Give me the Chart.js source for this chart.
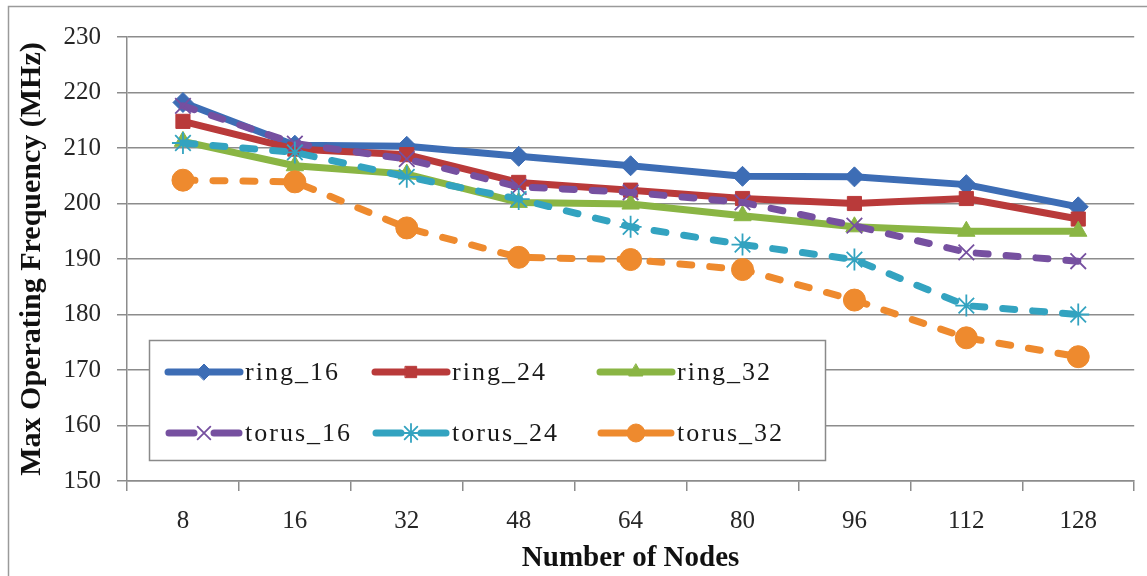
<!DOCTYPE html>
<html lang="en">
<head>
<meta charset="utf-8">
<title>Max Operating Frequency vs Number of Nodes</title>
<script src="https://cdn.jsdelivr.net/npm/chart.js@4.4.0/dist/chart.umd.min.js"></script>
<style>
  html, body { margin: 0; padding: 0; background: #fff; }
  #wrap { width: 1147px; height: 576px; }
</style>
</head>
<body>
<div id="wrap"><canvas id="freqChart"></canvas></div>
<script>
// node counts on the x axis
const nodes = ['8', '16', '32', '48', '64', '80', '96', '112', '128'];

// max operating frequency (MHz) per topology / width
const ring16  = [218.2, 210.5, 210.3, 208.5, 206.8, 204.9, 204.8, 203.4, 199.4];
const ring24  = [214.8, 209.8, 208.8, 203.8, 202.4, 200.9, 200.0, 200.9, 197.2];
const ring32  = [211.2, 206.8, 205.3, 200.2, 199.9, 197.8, 195.8, 195.0, 195.0];
const torus16 = [217.6, 210.8, 208.0, 203.0, 202.0, 200.2, 196.0, 191.2, 189.6];
const torus24 = [210.9, 209.2, 204.8, 200.8, 195.8, 192.6, 189.9, 181.6, 180.0];
const torus32 = [204.2, 203.9, 195.6, 190.3, 189.9, 188.1, 182.6, 175.8, 172.4];

const yMin = 150, yMax = 230, yStep = 10;

const serif = '"Liberation Serif", "DejaVu Serif", serif';
const gridGray = '#8c8c8c';

function series(label, data, color, style, radius, dashed, order) {
  const thin = style === 'crossRot' || style === 'star';
  return {
    label: label,
    data: data,
    borderColor: color,
    backgroundColor: color,
    borderWidth: 7,
    borderDash: dashed ? [12, 18] : [],
    borderCapStyle: 'round',
    borderJoinStyle: 'round',
    pointStyle: style,
    pointRadius: radius,
    pointBorderWidth: thin ? 1.8 : 1,
    pointBackgroundColor: color,
    pointBorderColor: color,
    tension: 0,
    order: order
  };
}

// white background and the outer frame of the chart area
const frame = {
  id: 'frame',
  beforeDraw(chart) {
    const ctx = chart.ctx;
    ctx.save();
    ctx.fillStyle = '#fff';
    ctx.fillRect(0, 0, chart.width, chart.height);
    ctx.strokeStyle = '#9a9a9a';
    ctx.lineWidth = 1.5;
    ctx.beginPath();
    ctx.moveTo(8.5, chart.height);
    ctx.lineTo(8.5, 6.5);
    ctx.lineTo(chart.width, 6.5);
    ctx.stroke();
    ctx.restore();
  }
};

// boxed legend sitting inside the plot, 3 columns x 2 rows
const boxLegend = {
  id: 'boxLegend',
  afterDraw(chart) {
    const ctx = chart.ctx;
    const box = { x: 149, y: 340, w: 676, h: 120 };
    const cols = [165, 372, 597];
    const rows = [372, 433];
    const sampleLen = 78;
    ctx.save();
    ctx.fillStyle = '#fff';
    ctx.fillRect(box.x, box.y, box.w, box.h);
    ctx.strokeStyle = '#8a8a8a';
    ctx.lineWidth = 1.5;
    ctx.strokeRect(box.x + 0.5, box.y + 0.5, box.w, box.h);

    chart.data.datasets.forEach((ds, i) => {
      const x = cols[i % 3];
      const y = rows[Math.floor(i / 3)];
      const mid = x + sampleLen / 2;
      ctx.save();
      ctx.strokeStyle = ds.borderColor;
      ctx.lineWidth = ds.borderWidth;
      ctx.lineCap = 'round';
      ctx.beginPath();
      if (ds.borderDash.length) {
        // one dash either side of the marker
        ctx.moveTo(x + 4, y);
        ctx.lineTo(mid - 10, y);
        ctx.moveTo(mid + 10, y);
        ctx.lineTo(x + sampleLen - 4, y);
      } else {
        ctx.moveTo(x + 3, y);
        ctx.lineTo(x + sampleLen - 3, y);
      }
      ctx.stroke();
      ctx.fillStyle = ds.pointBackgroundColor;
      ctx.strokeStyle = ds.pointBorderColor;
      ctx.lineWidth = ds.pointBorderWidth;
      Chart.helpers.drawPoint(ctx, {
        pointStyle: ds.pointStyle,
        radius: ds.pointRadius - 2,
        rotation: 0,
        borderWidth: ds.pointBorderWidth
      }, mid, y);
      ctx.restore();

      ctx.fillStyle = '#1a1a1a';
      ctx.font = '26px ' + serif;
      ctx.textBaseline = 'middle';
      ctx.letterSpacing = '2px';
      ctx.fillText(ds.label, x + sampleLen + 2, y + 1);
      ctx.letterSpacing = '0px';
    });
    ctx.restore();
  }
};

const chart = new Chart(document.getElementById('freqChart'), {
  type: 'line',
  data: {
    labels: nodes,
    datasets: [
      series('ring_16',  ring16,  '#3d6db5', 'rectRot',  10, false, 6),
      series('ring_24',  ring24,  '#b93a3a', 'rect',     10, false, 5),
      series('ring_32',  ring32,  '#8ab544', 'triangle', 10, false, 4),
      series('torus_16', torus16, '#7650a0', 'crossRot', 11, true, 3),
      series('torus_24', torus24, '#33a3c0', 'star',     11, true, 2),
      series('torus_32', torus32, '#ee8a2e', 'circle',   11, true, 1)
    ]
  },
  options: {
    responsive: true,
    maintainAspectRatio: false,
    devicePixelRatio: 1,
    animation: false,
    layout: { padding: { left: 8, top: 37, right: 3, bottom: 0 } },
    plugins: {
      legend: { display: false },
      tooltip: { enabled: false }
    },
    scales: {
      x: {
        type: 'category',
        offset: true,
        grid: {
          offset: true,
          drawOnChartArea: false,
          drawTicks: true,
          tickLength: 10,
          color: gridGray,
          lineWidth: 1.5
        },
        border: { color: gridGray, width: 1.5 },
        ticks: {
          font: { family: serif, size: 25 },
          color: '#262626',
          padding: 15,
          maxRotation: 0
        },
        title: {
          display: true,
          text: 'Number of Nodes',
          font: { family: serif, size: 29, weight: 'bold' },
          color: '#111',
          padding: { top: 0, bottom: 0 }
        },
        afterFit(scale) { scale.height = 95; }
      },
      y: {
        min: yMin,
        max: yMax,
        grid: {
          color: gridGray,
          lineWidth: 1.5,
          tickLength: 10
        },
        border: { color: gridGray, width: 1.5 },
        ticks: {
          stepSize: yStep,
          font: { family: serif, size: 25 },
          color: '#262626',
          padding: 16
        },
        title: {
          display: true,
          text: 'Max Operating Frequency (MHz)',
          font: { family: serif, size: 30, weight: 'bold' },
          color: '#111',
          padding: { top: 6, bottom: 0 }
        },
        afterFit(scale) { scale.width = 119; }
      }
    }
  },
  plugins: [frame, boxLegend]
});
</script>
</body>
</html>
